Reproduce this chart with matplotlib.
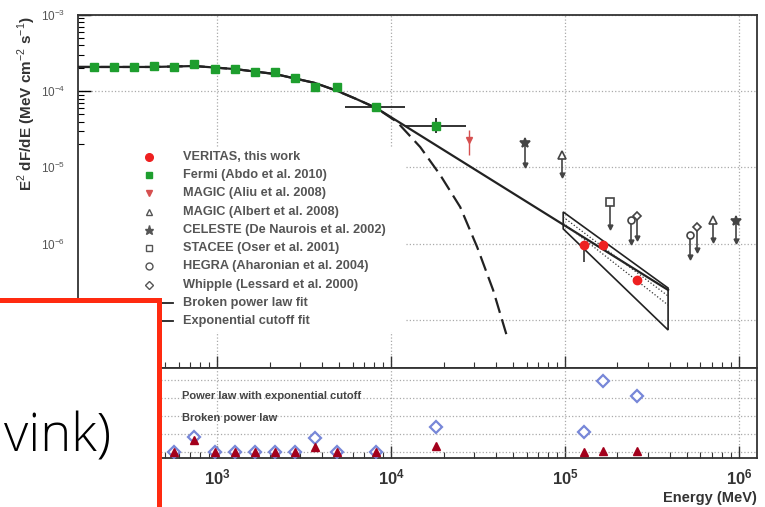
import matplotlib
matplotlib.use("Agg")
import matplotlib.pyplot as plt
from matplotlib.patches import Rectangle, Polygon
from matplotlib.ticker import FixedLocator, FixedFormatter, LogLocator, NullFormatter

W, H = 765, 507

# ---- data (energy in MeV, E^2 dF/dE in MeV cm^-2 s^-1) ----
fermi_e = [196, 256, 333, 435, 566, 738, 975, 1269, 1652, 2155, 2805, 3657, 4897, 8204, 18150]
fermi_f = [2.08e-4, 2.08e-4, 2.08e-4, 2.14e-4, 2.08e-4, 2.28e-4, 1.95e-4, 1.95e-4,
           1.79e-4, 1.79e-4, 1.49e-4, 1.13e-4, 1.13e-4, 6.21e-5, 3.49e-5]
fermi_elo = [196, 256, 333, 435, 566, 738, 975, 1269, 1652, 2155, 2805, 3657, 4897, 5445, 12020]
fermi_ehi = [196, 256, 333, 435, 566, 738, 975, 1269, 1652, 2155, 2805, 3657, 4897, 12020, 26980]
fermi_flo = [2.08e-4, 2.08e-4, 2.08e-4, 2.14e-4, 2.08e-4, 2.28e-4, 1.95e-4, 1.95e-4,
             1.79e-4, 1.79e-4, 1.49e-4, 1.13e-4, 1.13e-4, 6.21e-5, 2.83e-5]
fermi_fhi = [2.08e-4, 2.08e-4, 2.08e-4, 2.14e-4, 2.08e-4, 2.28e-4, 1.95e-4, 1.95e-4,
             1.79e-4, 1.79e-4, 1.49e-4, 1.13e-4, 1.13e-4, 6.21e-5, 4.45e-5]

veritas_e = [128500, 165200, 259400]
veritas_f = [9.6e-7, 9.6e-7, 3.33e-7]
veritas_flo = [5.7e-7, 8.6e-7, 3.0e-7]
veritas_fhi = [1.0e-6, 1.0e-6, 3.5e-7]

magic_aliu_e = [28050]
magic_aliu_f = [2.29e-5]
magic_aliu_flo = [1.46e-5]
magic_aliu_fhi = [3.1e-5]

# older measurements: marker value and end of the downward bar
celeste_e = [58900, 961000]
celeste_f = [2.09e-5, 1.98e-6]
celeste_end = [1.07e-5, 1.08e-6]
magic_albert_e = [96100, 709000]
magic_albert_f = [1.46e-5, 2.04e-6]
magic_albert_end = [7.9e-6, 1.11e-6]
stacee_e = [181600]
stacee_f = [3.51e-6]
stacee_end = [1.65e-6]
hegra_e = [239300, 522000]
hegra_f = [2.04e-6, 1.30e-6]
hegra_end = [1.05e-6, 6.67e-7]
whipple_e = [258000, 574000]
whipple_f = [2.30e-6, 1.65e-6]
whipple_end = [1.18e-6, 8.24e-7]

# fit curves
bpl_e = [158.9, 434.5, 738, 1268, 2153, 3656, 4893, 6295, 8204, 390800]
bpl_f = [2.08e-4, 2.08e-4, 2.14e-4, 1.95e-4, 1.68e-4, 1.28e-4, 1.01e-4, 7.91e-5, 6.03e-5, 2.46e-7]
cut_e = [158.9, 434.5, 738, 1268, 2153, 3656, 4893, 6295, 8204, 10820, 14690, 19140,
         24940, 31210, 38550, 46990]
cut_f = [2.08e-4, 2.08e-4, 2.14e-4, 1.95e-4, 1.68e-4, 1.28e-4, 1.01e-4, 7.91e-5, 6.03e-5,
         3.94e-5, 1.85e-5, 7.95e-6, 3.02e-6, 9.02e-7, 2.46e-7, 5.43e-8]

# VERITAS butterfly
bow_e = [97500, 390800]
bow_upper = [2.60e-6, 2.61e-7]
bow_lower = [1.56e-6, 7.34e-8]
bow_mid1 = [2.23e-6, 2.05e-7]
bow_mid2 = [1.86e-6, 1.56e-7]

# lower panel: deviation of each point from the two fits
dev_e = fermi_e + veritas_e
dev_cutoff = [0, 0, 0, 0, 0, 0.82, 0, 0, 0, 0, 0, 0.76, 0, 0, 1.37, 1.09, 3.93, 3.09]
dev_bpl = [0, 0, 0, 0, 0, 0.65, 0, 0, 0, 0, 0, 0.26, 0, 0, 0.32, -0.03, 0.05, 0.05]

legend_labels = ["VERITAS, this work", "Fermi (Abdo et al. 2010)", "MAGIC (Aliu et al. 2008)",
                 "MAGIC (Albert et al. 2008)", "CELESTE (De Naurois et al. 2002)",
                 "STACEE (Oser et al. 2001)", "HEGRA (Aharonian et al. 2004)",
                 "Whipple (Lessard et al. 2000)", "Broken power law fit", "Exponential cutoff fit"]


def fx(px):
    return px / W


def fy(py):
    return 1 - py / H


plt.rcParams['font.family'] = ['Liberation Sans', 'DejaVu Sans']
plt.rcParams['mathtext.fontset'] = 'custom'
plt.rcParams['mathtext.rm'] = 'Liberation Sans'
plt.rcParams['mathtext.bf'] = 'Liberation Sans:bold'

fig = plt.figure(figsize=(W / 100, H / 100), dpi=100)
ax1 = fig.add_axes([fx(78), fy(368), fx(757) - fx(78), fy(15) - fy(368)])
ax2 = fig.add_axes([fx(78), fy(458), fx(757) - fx(78), fy(368) - fy(458)])

XLIM = (10 ** 2.2, 10 ** 6.103)
for ax in (ax1, ax2):
    ax.set_xscale('log')
    ax.set_xlim(*XLIM)
    ax.set_axisbelow(True)
    for s in ax.spines.values():
        s.set_color('#333333')
        s.set_linewidth(1.3)
    ax.xaxis.set_major_locator(FixedLocator([1e3, 1e4, 1e5, 1e6]))
    ax.xaxis.set_minor_locator(LogLocator(base=10, subs=range(2, 10)))
    ax.xaxis.set_minor_formatter(NullFormatter())
    ax.grid(which='major', axis='x', color='#aaaaaa', ls=':', lw=0.9)
    ax.tick_params(axis='x', which='major', direction='in', length=9, width=1, color='#333333',
                   top=False)
    ax.tick_params(axis='x', which='minor', direction='in', length=4, width=0.8, color='#333333',
                   top=False)

# ---- top panel ----
ax1.set_yscale('log')
ax1.set_ylim(10 ** -7.633, 1e-3)
ax1.grid(which='major', axis='y', color='#aaaaaa', ls=':', lw=0.9)
ax1.yaxis.set_major_locator(FixedLocator([1e-7, 1e-6, 1e-5, 1e-4, 1e-3]))
ax1.yaxis.set_major_formatter(FixedFormatter([r'$10^{-7}$', r'$10^{-6}$', r'$10^{-5}$',
                                              r'$10^{-4}$', r'$10^{-3}$']))
ax1.yaxis.set_minor_locator(LogLocator(base=10, subs=range(2, 10)))
ax1.yaxis.set_minor_formatter(NullFormatter())
ax1.tick_params(axis='y', which='major', direction='in', length=9, width=1, labelsize=8.5,
                labelcolor='#555555', pad=9, right=False)
ax1.tick_params(axis='y', which='minor', direction='in', length=4, width=0.8, right=False)
ax1.tick_params(axis='x', labelbottom=False)

# white legend area hides grid lines
ax1.add_patch(Rectangle((0, (368 - 332) / 353), (405 - 78) / 679, (332 - 147) / 353,
                        transform=ax1.transAxes, facecolor='white', edgecolor='none', zorder=1))

ax1.plot(bpl_e, bpl_f, color='#222222', lw=1.6, zorder=3)
ax1.plot(cut_e, cut_f, color='#222222', lw=1.6, dashes=(7, 3), zorder=3)

bow = Polygon([(bow_e[0], bow_upper[0]), (bow_e[1], bow_upper[1]),
               (bow_e[1], bow_lower[1]), (bow_e[0], bow_lower[0])],
              closed=True, facecolor='none', edgecolor='#222222', lw=1.2, zorder=3)
ax1.add_patch(bow)
ax1.plot(bow_e, bow_mid1, color='#333333', lw=0.9, ls=':', zorder=3)
ax1.plot(bow_e, bow_mid2, color='#333333', lw=0.9, ls=':', zorder=3)

fermi_xerr = [[e - lo for e, lo in zip(fermi_e, fermi_elo)], [hi - e for e, hi in zip(fermi_e, fermi_ehi)]]
fermi_yerr = [[f - lo for f, lo in zip(fermi_f, fermi_flo)], [hi - f for f, hi in zip(fermi_f, fermi_fhi)]]
ax1.errorbar(fermi_e, fermi_f, xerr=fermi_xerr, yerr=fermi_yerr, fmt='s', ms=5.5, color='#1e9e2e',
             ecolor='#222222', elinewidth=1.3, capsize=0, zorder=4)

ax1.errorbar(magic_aliu_e, magic_aliu_f,
             yerr=[[f - lo for f, lo in zip(magic_aliu_f, magic_aliu_flo)],
                   [hi - f for f, hi in zip(magic_aliu_f, magic_aliu_fhi)]],
             fmt='v', ms=5, color='#d65050', ecolor='#d65050', elinewidth=1, capsize=0, zorder=4)

ax1.errorbar(veritas_e, veritas_f,
             yerr=[[f - lo for f, lo in zip(veritas_f, veritas_flo)],
                   [hi - f for f, hi in zip(veritas_f, veritas_fhi)]],
             fmt='o', ms=6, color='#ee2020', ecolor='#333333', elinewidth=1.2, capsize=0, zorder=5)

old_sets = [
    (celeste_e, celeste_f, celeste_end, dict(marker='*', mfc='#444444', mec='#444444', ms=7)),
    (magic_albert_e, magic_albert_f, magic_albert_end, dict(marker='^', mfc='white', mec='#444444', ms=5.5)),
    (stacee_e, stacee_f, stacee_end, dict(marker='s', mfc='white', mec='#444444', ms=5.5)),
    (hegra_e, hegra_f, hegra_end, dict(marker='o', mfc='white', mec='#444444', ms=5)),
    (whipple_e, whipple_f, whipple_end, dict(marker='D', mfc='white', mec='#444444', ms=4.5)),
]
for es, fs, ends, style in old_sets:
    for e, f, end in zip(es, fs, ends):
        ax1.plot([e, e], [f, end], color='#444444', lw=1.2, zorder=4)
        ax1.plot([e], [end], marker='v', ms=3.5, color='#444444', zorder=4)
    ax1.plot(es, fs, ls='none', mew=1.2, zorder=5, **style)

# legend
leg_y = [157, 175, 193, 212, 230, 248, 266, 285, 303, 321]
leg_styles = [
    dict(marker='o', color='#ee2020', ms=5.5),
    dict(marker='s', color='#1e9e2e', ms=5),
    dict(marker='v', color='#d65050', ms=5),
    dict(marker='^', mfc='white', mec='#555555', ms=5),
    dict(marker='*', color='#555555', ms=6.5),
    dict(marker='s', mfc='white', mec='#555555', ms=5),
    dict(marker='o', mfc='white', mec='#555555', ms=5),
    dict(marker='D', mfc='white', mec='#555555', ms=4.5),
]


def ax_x(px):
    return (px - 78) / 679


def ax_y(py):
    return (368 - py) / 353


for label, py, i in zip(legend_labels, leg_y, range(len(legend_labels))):
    if i < len(leg_styles):
        ax1.plot([ax_x(149)], [ax_y(py)], transform=ax1.transAxes, ls='none', zorder=5, **leg_styles[i])
    else:
        ax1.plot([ax_x(162), ax_x(173)], [ax_y(py), ax_y(py)], transform=ax1.transAxes,
                 color='#222222', lw=1.3, zorder=5)
    ax1.text(ax_x(183), ax_y(py), label, transform=ax1.transAxes, fontsize=9.2, fontweight='bold',
             color='#555555', va='center', ha='left', zorder=5)

fig.text(fx(27), fy(104), r'E$^{2}$ dF/dE (MeV cm$^{-2}$ s$^{-1}$)', rotation=90,
         ha='center', va='center', fontsize=11, fontweight='bold', color='#333333')

# ---- bottom panel ----
ax2.set_ylim(-0.35, 4.65)
ax2.yaxis.set_major_locator(FixedLocator([0, 1, 2, 3, 4]))
ax2.grid(which='major', axis='y', color='#aaaaaa', ls=':', lw=0.9)
ax2.tick_params(axis='y', left=False, right=False, labelleft=False)
ax2.xaxis.set_major_formatter(FixedFormatter([r'$\mathbf{10^{3}}$', r'$\mathbf{10^{4}}$',
                                              r'$\mathbf{10^{5}}$', r'$\mathbf{10^{6}}$']))
ax2.tick_params(axis='x', which='major', labelsize=12, labelcolor='#333333', pad=7)

ax2.plot(dev_e, dev_cutoff, ls='none', marker='D', ms=6.5, mfc='white', mec='#7787d8', mew=1.6, zorder=3)
ax2.plot(dev_e, dev_bpl, ls='none', marker='^', ms=6, color='#a3001c', zorder=4)
ax2.text(ax_x(182), (458 - 396) / 90, 'Power law with exponential cutoff', transform=ax2.transAxes,
         fontsize=8, fontweight='bold', color='#444444', va='center')
ax2.text(ax_x(182), (458 - 418) / 90, 'Broken power law', transform=ax2.transAxes,
         fontsize=8, fontweight='bold', color='#444444', va='center')

fig.text(fx(757), fy(498), 'Energy (MeV)', ha='right', va='center', fontsize=10.5,
         fontweight='bold', color='#333333')

# ---- overlay box in front of the chart ----
box = Rectangle((fx(-20), fy(530)), fx(158.5) - fx(-20), fy(299.5) - fy(530),
                transform=fig.transFigure, facecolor='white', edgecolor='#ff2a10', lw=3.6, zorder=10)
fig.add_artist(box)
fig.text(fx(111), fy(452), 'vink)', ha='right', va='baseline', fontsize=38,
         family=['Open Sans', 'DejaVu Sans'], fontweight='light', color='black', zorder=11)

fig.savefig('out.png', dpi=100)
